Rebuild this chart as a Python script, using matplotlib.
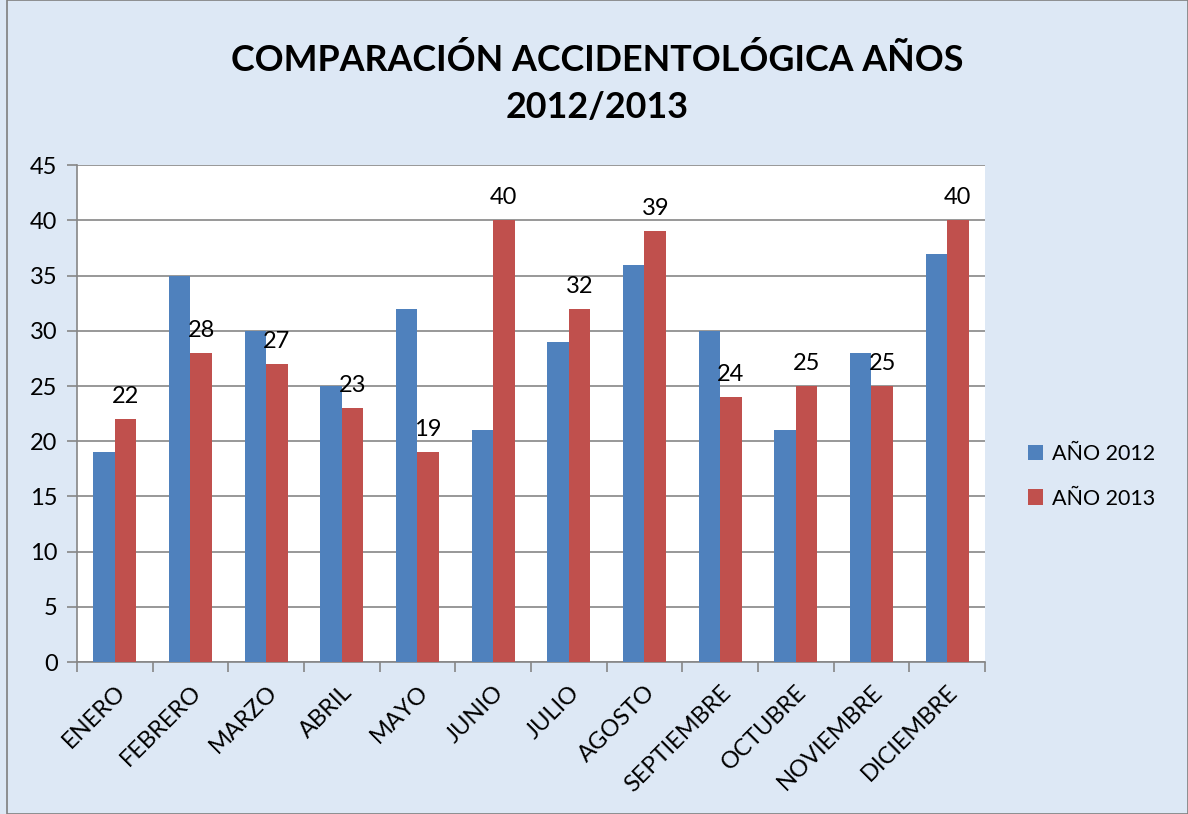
import matplotlib.pyplot as plt
import numpy as np
from matplotlib.patches import Rectangle

meses = ["ENERO", "FEBRERO", "MARZO", "ABRIL", "MAYO", "JUNIO", "JULIO",
         "AGOSTO", "SEPTIEMBRE", "OCTUBRE", "NOVIEMBRE", "DICIEMBRE"]
anio_2012 = [19, 35, 30, 25, 32, 21, 29, 36, 30, 21, 28, 37]
anio_2013 = [22, 28, 27, 23, 19, 40, 32, 39, 24, 25, 25, 40]

azul = "#4f81bd"
rojo = "#c0504d"
fondo = "#dde8f5"
rejilla = "#868686"

plt.rcParams["font.family"] = ["Lato", "DejaVu Sans"]

fig = plt.figure(figsize=(11.88, 8.14), dpi=100, facecolor=fondo)
fig.patches.append(Rectangle((0.006, 0.0), 0.994, 1.0, transform=fig.transFigure,
                             fill=False, edgecolor="#7f7f7f", lw=1.2))
ax = fig.add_axes([0.0648, 0.1867, 0.7643, 0.6103])
ax.set_facecolor("white")

x = np.arange(len(meses))
w = 0.285
ax.bar(x - w / 2, anio_2012, w, color=azul, label="AÑO 2012", zorder=3)
b13 = ax.bar(x + w / 2, anio_2013, w, color=rojo, label="AÑO 2013", zorder=3)
for rect, v in zip(b13, anio_2013):
    ax.text(rect.get_x() + rect.get_width() / 2, v + 1.1, str(v),
            ha="center", va="bottom", fontsize=17, zorder=4)

ax.set_xlim(-0.5, len(meses) - 0.5)
ax.set_ylim(0, 45)
ax.set_yticks(range(0, 46, 5))
ax.yaxis.grid(True, color=rejilla, lw=1.2, zorder=0)
ax.set_axisbelow(True)
for s in ["top", "right"]:
    ax.spines[s].set_visible(False)
ax.spines["left"].set_color(rejilla)
ax.spines["bottom"].set_color(rejilla)
ax.spines["left"].set_linewidth(1.2)
ax.spines["bottom"].set_linewidth(1.2)

ax.set_xticks(np.arange(-0.5, len(meses), 1.0), minor=False)
ax.set_xticklabels([])
ax.set_xticks(x, minor=True)
ax.set_xticklabels(meses, minor=True, rotation=45, ha="right",
                   rotation_mode="anchor", fontsize=17)
ax.tick_params(axis="x", which="major", length=7, color=rejilla, width=1.2)
ax.tick_params(axis="x", which="minor", length=0, pad=14)
ax.tick_params(axis="y", length=7, color=rejilla, width=1.2, labelsize=17, pad=7)

fig.text(0.503, 0.898, "COMPARACIÓN ACCIDENTOLÓGICA AÑOS\n2012/2013",
         ha="center", va="center", fontsize=25.8, fontweight="bold", linespacing=1.52)

fig.legend(loc="center left", bbox_to_anchor=(0.849, 0.415), frameon=False,
           fontsize=15.5, handlelength=0.7, handleheight=0.7, labelspacing=1.15,
           handletextpad=0.4)

fig.savefig("out.png", dpi=100, facecolor=fondo)
